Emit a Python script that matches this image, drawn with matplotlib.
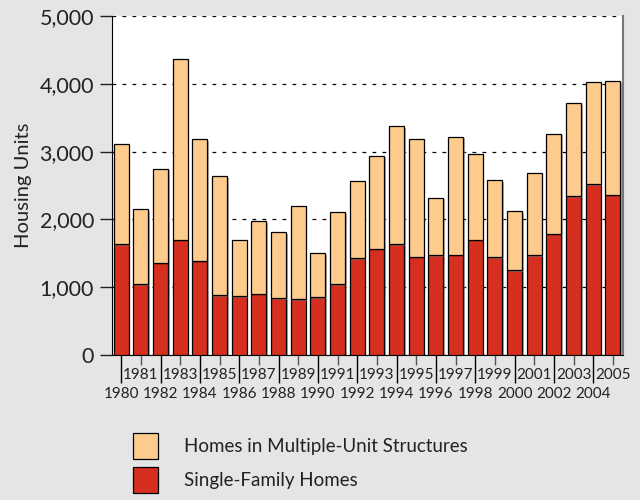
import matplotlib
matplotlib.use("Agg")
import matplotlib.pyplot as plt
import matplotlib.patheffects as pe
from matplotlib.patches import Patch
import numpy as np

years = list(range(1980, 2006))
total_units = [3110, 2150, 2750, 4365, 3185, 2635, 1700, 1975, 1810, 2205,
               1505, 2105, 2565, 2940, 3380, 3185, 2320, 3220, 2970, 2575,
               2125, 2685, 3265, 3715, 4030, 4040]
single_family = [1635, 1045, 1360, 1700, 1390, 880, 870, 905, 840, 825,
                 855, 1040, 1425, 1570, 1635, 1450, 1470, 1480, 1700, 1440,
                 1250, 1475, 1790, 2340, 2520, 2365]
multi_unit = [t - s for t, s in zip(total_units, single_family)]

RED = '#d72f1f'
PEACH = '#fdcb8b'
BG = '#e5e5e5'
TXT = '#222222'

plt.rcParams['font.family'] = ['Lato', 'DejaVu Sans']

fig = plt.figure(figsize=(6.4, 5.0), dpi=100, facecolor=BG)
ax = fig.add_axes([0.175, 0.29, 0.798, 0.678])
ax.set_facecolor('white')

x = np.arange(len(years))
shadow = [pe.SimplePatchShadow(offset=(1.2, -1.2), shadow_rgbFace='#777777', alpha=0.6),
          pe.Normal()]
ax.bar(x, single_family, width=0.76, color=RED, edgecolor='black',
       linewidth=0.9, zorder=3, path_effects=shadow)
ax.bar(x, multi_unit, bottom=single_family, width=0.76, color=PEACH,
       edgecolor='black', linewidth=0.9, zorder=3, path_effects=shadow)

ax.set_ylim(0, 5000)
ax.set_xlim(-0.47, len(years) - 0.5)
ax.set_yticks(range(0, 5001, 1000))
ax.set_yticklabels([f'{v:,}' for v in range(0, 5001, 1000)])
ax.yaxis.grid(True, linestyle=(0, (3, 5)), color='black', linewidth=0.9, zorder=1)
ax.tick_params(axis='y', length=9, width=1, colors=TXT, labelsize=15.5, pad=4)

even = [i for i, y in enumerate(years) if y % 2 == 0]
odd = [i for i, y in enumerate(years) if y % 2 == 1]
ax.set_xticks(even, labels=[str(years[i]) for i in even])
ax.set_xticks(odd, labels=[str(years[i]) for i in odd], minor=True)
ax.tick_params(axis='x', which='major', length=20, width=1, color='black',
               labelcolor=TXT, labelsize=11, pad=3)
ax.tick_params(axis='x', which='minor', length=7, width=1, color='#555555',
               labelcolor=TXT, labelsize=11, pad=2.5)

ax.spines['top'].set_visible(False)
ax.spines['right'].set_color('#777777')
ax.spines['right'].set_linewidth(1.5)
ax.spines['left'].set_color('black')
ax.spines['bottom'].set_color('black')

ax.set_ylabel('Housing Units', fontsize=14.5, color=TXT, labelpad=5)

handles = [Patch(facecolor=PEACH, edgecolor='black', linewidth=0.9),
           Patch(facecolor=RED, edgecolor='black', linewidth=0.9)]
fig.legend(handles, ['Homes in Multiple-Unit Structures', 'Single-Family Homes'],
           loc='upper left', bbox_to_anchor=(0.208, 0.135), frameon=False,
           fontsize=13.5, handlelength=1.35, handleheight=1.8, handletextpad=1.35,
           labelspacing=0.4, borderaxespad=0, borderpad=0, labelcolor=TXT)

fig.savefig('out.png', dpi=100, facecolor=BG)
